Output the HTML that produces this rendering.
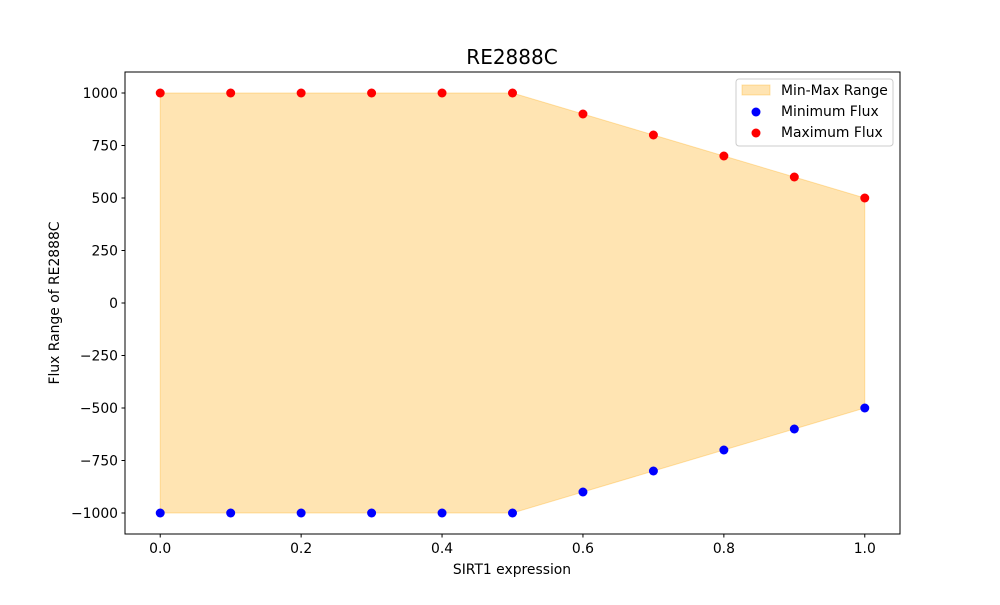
<!DOCTYPE html>
<html><head><meta charset="utf-8"><style>
body{margin:0;background:#fff;}
svg{font-family:"DejaVu Sans","Liberation Sans",sans-serif;}
</style></head><body>
<svg id="chart" width="1000" height="600">
<rect width="1000" height="600" fill="#fff"/>
<text x="512" y="64" font-size="20" text-anchor="middle">RE2888C</text>
<g id="plot"></g>
<rect x="125" y="72" width="775" height="462" fill="none" stroke="#000" stroke-width="1"/>
<text x="512" y="574" font-size="13.9" text-anchor="middle">SIRT1 expression</text>
<text transform="translate(59,303) rotate(-90)" font-size="13.9" text-anchor="middle">Flux Range of RE2888C</text>
<g>
<rect x="736" y="79" width="157" height="67" rx="3" fill="#fff" fill-opacity="0.8" stroke="#ccc"/>
<rect x="742" y="85" width="28" height="10" fill="#ffa500" fill-opacity="0.3" stroke="#ffa500" stroke-opacity="0.3"/>
<text x="781" y="95" font-size="13.9">Min-Max Range</text>
<circle cx="756" cy="112" r="4.5" fill="#0000ff"/>
<text x="781" y="116" font-size="13.9">Minimum Flux</text>
<circle cx="756" cy="133" r="4.5" fill="#ff0000"/>
<text x="781" y="137" font-size="13.9">Maximum Flux</text>
</g>
</svg>
<script>
const xs=[0,0.1,0.2,0.3,0.4,0.5,0.6,0.7,0.8,0.9,1.0];
const minFlux=[-1000,-1000,-1000,-1000,-1000,-1000,-900,-800,-700,-600,-500];
const maxFlux=[1000,1000,1000,1000,1000,1000,900,800,700,600,500];
const xTicks=[0,0.2,0.4,0.6,0.8,1.0];
const xTickLabels=["0.0","0.2","0.4","0.6","0.8","1.0"];
const yTicks=[-1000,-750,-500,-250,0,250,500,750,1000];
const yTickLabels=["\u22121000","\u2212750","\u2212500","\u2212250","0","250","500","750","1000"];
const X=v=>125+(v+0.05)/1.1*775;
const Y=v=>303-v*0.21;
const NS="http://www.w3.org/2000/svg";
const g=document.getElementById('plot');
function mk(t,a){const e=document.createElementNS(NS,t);for(const k in a)e.setAttribute(k,a[k]);g.appendChild(e);return e;}
let pts=xs.map((x,i)=>X(x)+','+Y(maxFlux[i]));
for(let i=xs.length-1;i>=0;i--)pts.push(X(xs[i])+','+Y(minFlux[i]));
const poly=mk('polygon',{points:pts.join(' '),fill:'#ffa500','fill-opacity':0.3,stroke:'#ffa500','stroke-opacity':0.3});


xTicks.forEach((t,i)=>{
 const l=mk('line',{x1:X(t),x2:X(t),y1:534,y2:537.5,stroke:'#000'});
 
 
 const tx=mk('text',{x:X(t),y:553,'font-size':13.9,'text-anchor':'middle'});tx.textContent=xTickLabels[i];
 
 
});
yTicks.forEach((t,i)=>{
 const l=mk('line',{x1:121.5,x2:125,y1:Y(t),y2:Y(t),stroke:'#000'});
 
 
 const tx=mk('text',{x:118,y:Y(t)+5,'font-size':13.9,'text-anchor':'end'});tx.textContent=yTickLabels[i];
 
 
});
xs.forEach((x,i)=>{
 const a=mk('circle',{cx:X(x),cy:Y(minFlux[i]),r:4.5,fill:'#0000ff'});
 
 
 const b=mk('circle',{cx:X(x),cy:Y(maxFlux[i]),r:4.5,fill:'#ff0000'});
 
 
});
</script>
</body></html>
